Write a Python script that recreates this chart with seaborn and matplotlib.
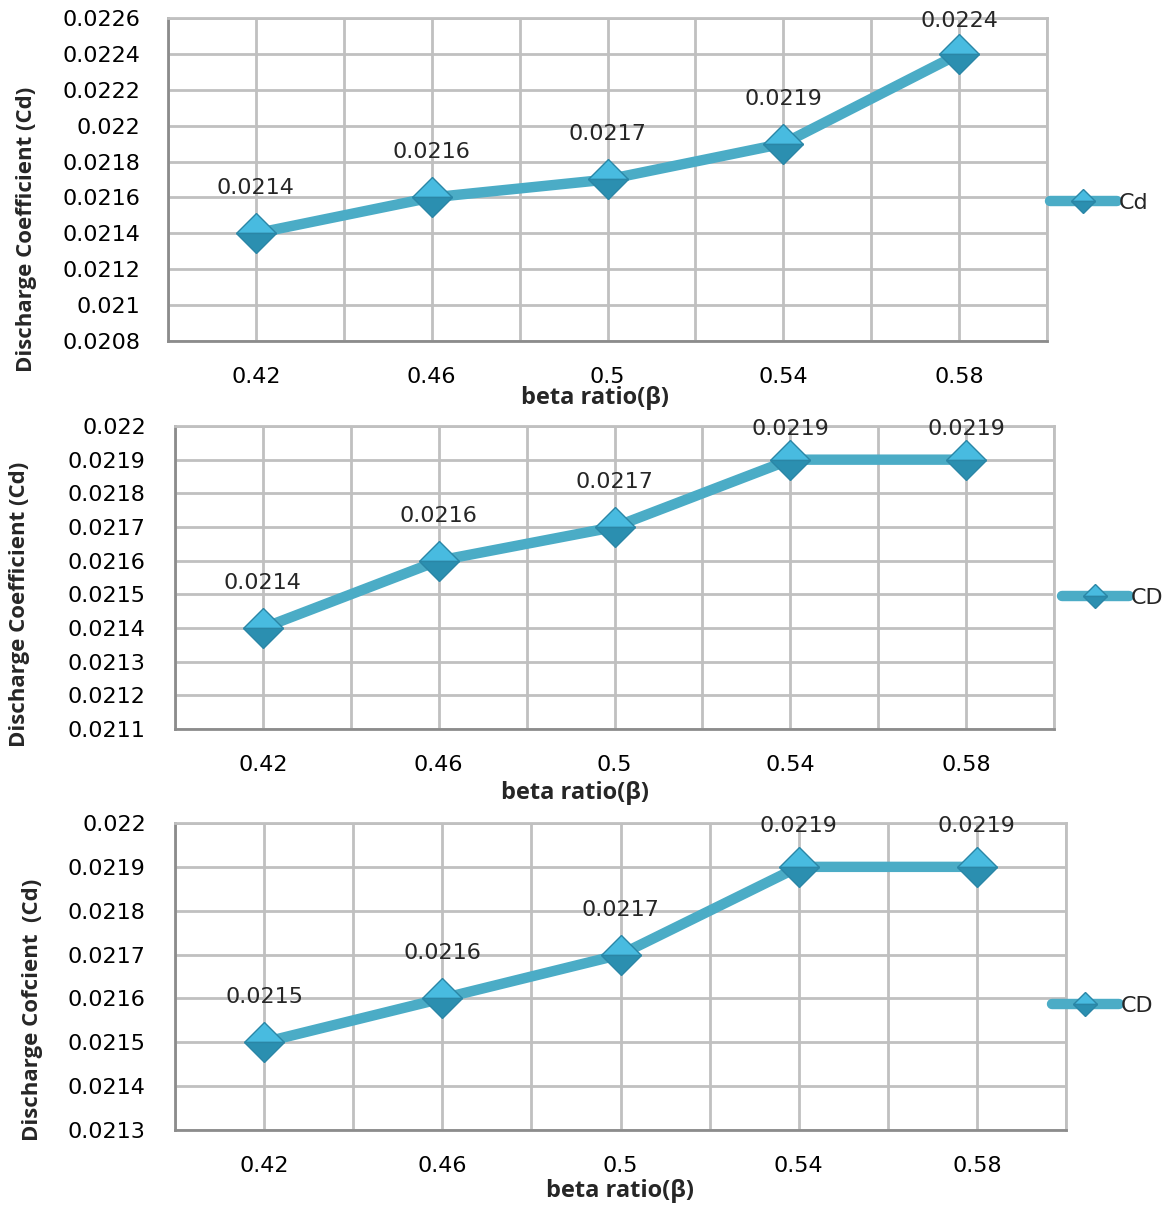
import matplotlib
matplotlib.use("Agg")
import matplotlib.pyplot as plt
from matplotlib.ticker import FixedLocator, FuncFormatter
from matplotlib.lines import Line2D
import seaborn as sns
import pandas as pd
import numpy as np

sns.set_theme(style="white")
plt.rcParams["font.family"] = ["DejaVu Sans"]

beta = ["0.42", "0.46", "0.5", "0.54", "0.58"]
cd_top = [0.0214, 0.0216, 0.0217, 0.0219, 0.0224]
cd_mid = [0.0214, 0.0216, 0.0217, 0.0219, 0.0219]
cd_bot = [0.0215, 0.0216, 0.0217, 0.0219, 0.0219]

series_names = ["Cd", "CD", "CD"]
ylabels = ["Discharge Coefficient (Cd)", "Discharge Coefficient (Cd)",
           "Discharge Cofcient  (Cd)"]
ylims = [(0.0208, 0.0226, 0.0002), (0.0211, 0.0220, 0.0001), (0.0213, 0.0220, 0.0001)]

W, H = 1175, 1207
# axes boxes in pixels: left, top, right, bottom
boxes = [(168, 18, 1047, 341), (175, 426, 1054, 729), (175, 823, 1066, 1130)]
legend_pos = [(1050, 203), (1062, 598), (1052, 1006)]
ylabel_xy = [(27, 229), (20, 604), (33, 1010)]
xlabel_xy = [(595, 398), (575, 793), (620, 1191)]

LINE = "#4BACC6"
FACE = "#48BBE0"
FACE_DARK = "#2B8FB0"
EDGE = "#2A86A6"
GRID = "#C0C0C0"

NUM_FONT = ["DejaVu Sans"]
LBL_FONT = ["Open Sans", "DejaVu Sans"]
NUM_SIZE = 16

fig = plt.figure(figsize=(W / 100, H / 100), dpi=100)

for i, vals in enumerate([cd_top, cd_mid, cd_bot]):
    l, t, r, b = boxes[i]
    ax = fig.add_axes([l / W, 1 - b / H, (r - l) / W, (b - t) / H])
    df = pd.DataFrame({"beta": beta, "cd": vals})
    sns.lineplot(data=df, x="beta", y="cd", ax=ax, sort=False, color=LINE,
                 linewidth=7.5, marker="D", markersize=20,
                 markerfacecolor=FACE, markeredgecolor=EDGE,
                 markeredgewidth=1.0, fillstyle="top",
                 markerfacecoloralt=FACE_DARK, zorder=5)
    lo, hi, step = ylims[i]
    ax.set_xlim(-0.5, 4.5)
    ax.set_ylim(lo, hi)
    ax.set_yticks(np.round(np.arange(lo, hi + step / 2, step), 5))
    ax.yaxis.set_major_formatter(FuncFormatter(
        lambda v, p: ("%.4f" % v).rstrip("0")))
    ax.xaxis.set_minor_locator(FixedLocator(np.arange(-0.5, 4.6, 1.0)))
    ax.grid(True, which="major", axis="both", color=GRID, linewidth=2.0, zorder=0)
    ax.grid(True, which="minor", axis="x", color=GRID, linewidth=2.0, zorder=0)
    ax.set_axisbelow(True)
    for s in ["left", "bottom"]:
        ax.spines[s].set_color("#8C8C8C")
        ax.spines[s].set_linewidth(2.0)
    for s in ["top", "right"]:
        ax.spines[s].set_color(GRID)
        ax.spines[s].set_linewidth(2.0)
    ax.tick_params(axis="both", which="both", length=0, labelsize=NUM_SIZE,
                   colors="black")
    ax.tick_params(axis="y", pad=20 if i == 0 else 21)
    ax.tick_params(axis="x", pad=19)
    ax.set_xlabel("")
    ax.set_ylabel("")

    xl, yl = xlabel_xy[i]
    fig.text(xl / W, 1 - yl / H, "beta ratio(β)", ha="center", va="center",
             fontsize=17, fontweight="bold", family=LBL_FONT)
    yx, yy = ylabel_xy[i]
    fig.text(yx / W, 1 - yy / H, ylabels[i], rotation=90,
             ha="center", va="center", fontsize=16, fontweight="bold",
             family=LBL_FONT)

    # value labels sit 45 px above each marker, kept just inside the top edge
    top_disp = ax.transAxes.transform((0, 1))[1]
    for xi, v in enumerate(vals):
        y_disp = ax.transData.transform((xi, v))[1]
        target = min(y_disp + 45, top_disp - 3)
        off_pt = (target - y_disp) * 72 / fig.dpi
        ax.annotate(f"{v:.4f}", (xi, v), xytext=(0, off_pt),
                    textcoords="offset points", ha="center", va="center",
                    fontsize=NUM_SIZE, zorder=6, annotation_clip=False,
                    family=NUM_FONT)

    if ax.get_legend() is not None:
        ax.get_legend().remove()
    lx, ly = legend_pos[i]
    handle = Line2D([], [], color=LINE, linewidth=7.5, marker="D", markersize=12,
                    markerfacecolor=FACE, markeredgecolor=EDGE,
                    fillstyle="top", markerfacecoloralt=FACE_DARK)
    fig.legend([handle], [series_names[i]], loc="center left",
               bbox_to_anchor=(lx / W, 1 - ly / H), frameon=False,
               prop={"size": NUM_SIZE, "family": NUM_FONT},
               handlelength=3.0, handletextpad=0.1, borderpad=0, borderaxespad=0)

fig.savefig("out.png", dpi=100)
